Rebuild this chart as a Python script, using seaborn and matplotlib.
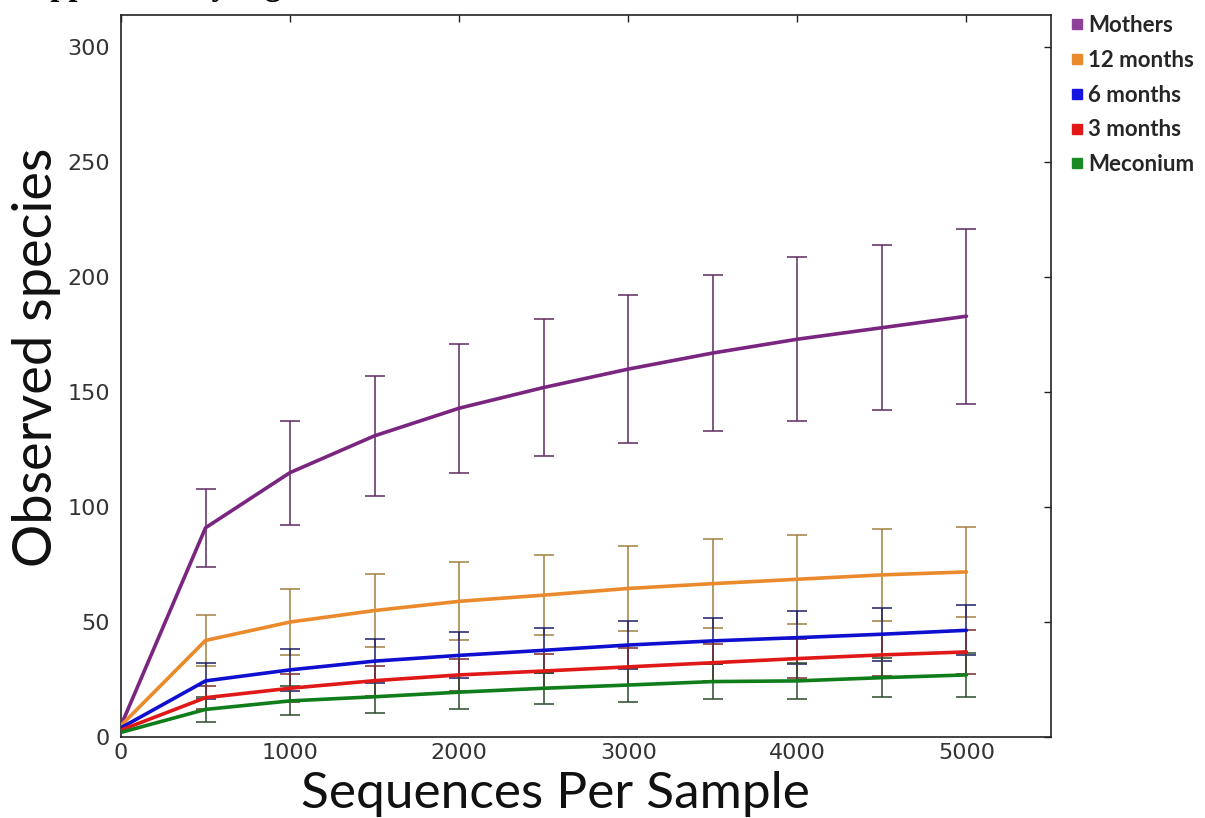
import matplotlib
matplotlib.use("Agg")
import matplotlib.pyplot as plt
from matplotlib.lines import Line2D
import numpy as np
import pandas as pd
import seaborn as sns

# Rarefaction depths (sequences per sample)
depths = [0, 500, 1000, 1500, 2000, 2500, 3000, 3500, 4000, 4500, 5000]

# Group names, in legend order
groups = ["Mothers", "12 months", "6 months", "3 months", "Meconium"]

# Mean observed species per depth
mothers_mean = [5, 91, 115, 131, 143, 152, 160, 167, 173, 178, 183]
m12_mean = [5, 42, 50, 55, 59, 61.7, 64.6, 66.7, 68.6, 70.5, 71.8]
m6_mean = [4, 24.4, 29.2, 33, 35.5, 37.7, 40, 41.8, 43.2, 44.7, 46.4]
m3_mean = [3, 17.1, 21.2, 24.5, 27, 28.7, 30.5, 32.3, 34.1, 35.7, 37]
meconium_mean = [2, 12, 15.7, 17.5, 19.5, 21.2, 22.6, 24.1, 24.4, 25.8, 27]

# Standard deviations per depth
mothers_sd = [0, 17, 22.6, 26, 28, 29.6, 32.2, 33.8, 35.6, 35.9, 38]
m12_sd = [0, 11, 14.5, 16, 17, 17.5, 18.4, 19.3, 19.4, 19.9, 19.6]
m6_sd = [0, 7.8, 9, 9.5, 10, 9.9, 10.4, 10.1, 11.6, 11.6, 10.9]
m3_sd = [0, 5, 6, 6.5, 7, 7.5, 8, 8, 8.5, 9, 9.5]
meconium_sd = [0, 5.3, 6.3, 7, 7.5, 6.7, 7.2, 7.7, 8, 8.4, 9.6]

means = [mothers_mean, m12_mean, m6_mean, m3_mean, meconium_mean]
sds = [mothers_sd, m12_sd, m6_sd, m3_sd, meconium_sd]

line_colors = ["#7a2580", "#ea8a2c", "#0f0fd0", "#e01818", "#0f7d1a"]
bar_colors = ["#5e2b62", "#a08040", "#1c1c6a", "#7a2a2a", "#2a4a2a"]
legend_colors = ["#8e3f98", "#ea8a2c", "#1414e0", "#e01818", "#1a8a24"]

df = pd.DataFrame({
    "depth": np.tile(depths, len(groups)),
    "observed": np.concatenate(means),
    "group": np.repeat(groups, len(depths)),
})

sns.set_style("white")
fig = plt.figure(figsize=(12.05, 8.18), dpi=100)
ax = fig.add_axes([121 / 1205, 81 / 818, 930 / 1205, 722 / 818])

sns.lineplot(data=df, x="depth", y="observed", hue="group", hue_order=groups,
             palette=dict(zip(groups, line_colors)), linewidth=2.6,
             legend=False, ax=ax, zorder=3)

for mean, sd, bc in zip(means, sds, bar_colors):
    d = np.array(depths)
    m = np.array(mean, dtype=float)
    s = np.array(sd, dtype=float)
    keep = s > 0
    ax.errorbar(d[keep], m[keep], yerr=s[keep], fmt="none", ecolor=bc,
                elinewidth=1.1, capsize=7, capthick=1.1, zorder=2)

ax.set_xlim(0, 5500)
ax.set_ylim(0, 314)
ax.set_xticks([0, 1000, 2000, 3000, 4000, 5000])
ax.set_yticks([0, 50, 100, 150, 200, 250, 300])
ax.tick_params(axis="both", direction="in", length=5, width=1.0,
               top=True, right=True, labelsize=16, labelcolor="#333333",
               color="#222222")
ax.tick_params(axis="y", pad=8)
ax.tick_params(axis="x", pad=4)
for sp in ax.spines.values():
    sp.set_linewidth(1.2)
    sp.set_color("#222222")

fam = ["Lato", "DejaVu Sans"]
ax.set_xlabel("Sequences Per Sample", family=fam, size=37, color="#111111")
ax.set_ylabel("Observed species", family=fam, size=39, color="#111111")
ax.xaxis.label.set_verticalalignment("baseline")
ax.xaxis.set_label_coords(0.4667, -0.0983)
ax.yaxis.label.set_verticalalignment("baseline")
ax.yaxis.set_label_coords(-0.0742, 0.526)

handles = [Line2D([], [], marker="s", linestyle="none", markersize=6.8,
                  markerfacecolor=c, markeredgecolor=c) for c in legend_colors]
ax.legend(handles, groups, loc="upper left", bbox_to_anchor=(1.0222, 1.0),
          frameon=False, handlelength=0.5, handletextpad=0.25,
          labelspacing=0.62, borderaxespad=0, borderpad=0,
          prop=dict(family=fam, weight="bold", size=16))

fig.text(14 / 1205, 1 + 5 / 818, "Supplementary Figure", ha="left",
         va="baseline", fontsize=23.5, fontweight="bold",
         family=["Liberation Serif", "DejaVu Serif"], color="black")

fig.savefig("out.png", dpi=100)
